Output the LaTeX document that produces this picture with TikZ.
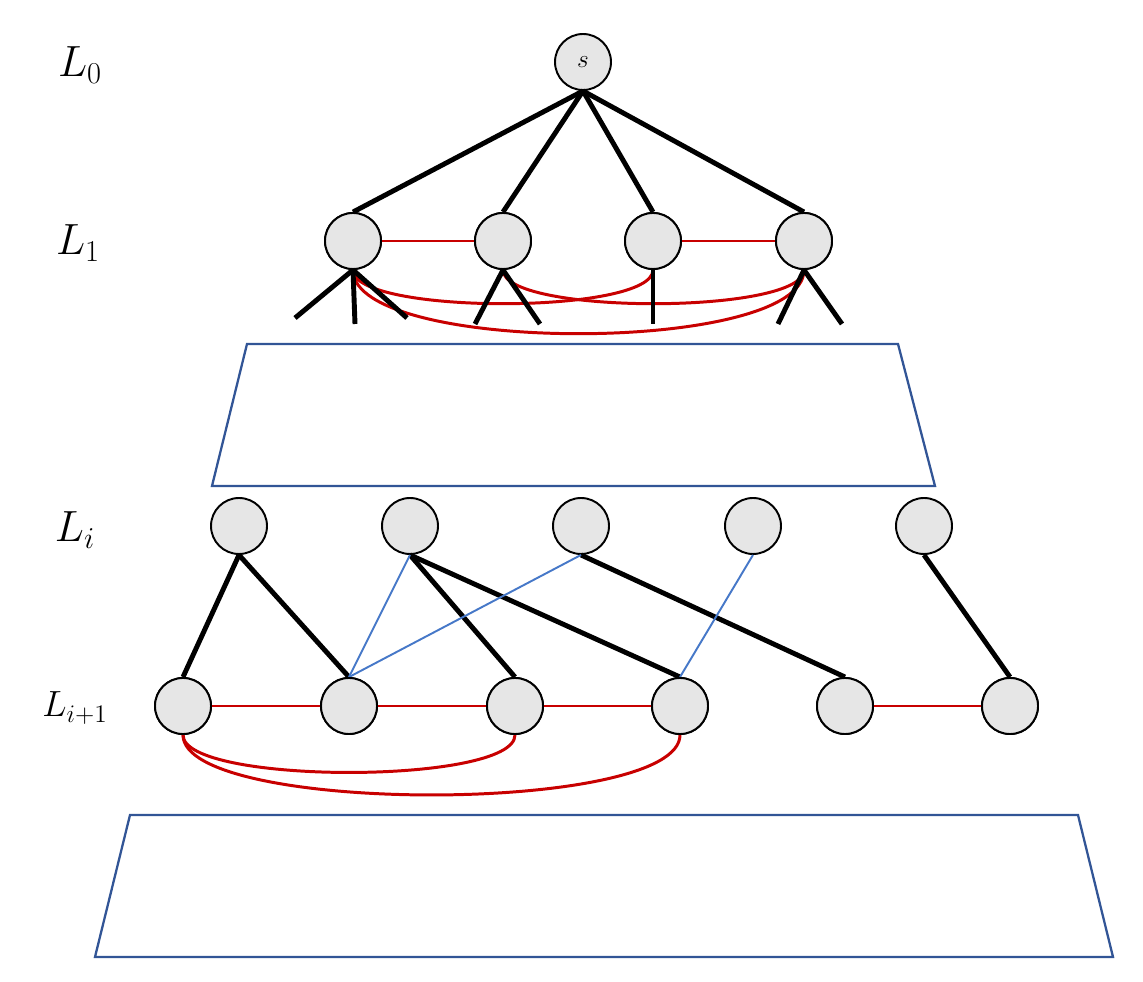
\documentclass[tikz,border=0pt]{standalone}
\definecolor{nodegray}{RGB}{230,230,230}
\definecolor{redl}{RGB}{200,0,0}
\definecolor{bluel}{RGB}{70,120,200}
\definecolor{trap}{RGB}{50,85,150}
\begin{document}
\begin{tikzpicture}[x=0.02cm,y=-0.02cm,
  vert/.style={circle,draw=black,fill=nodegray,line width=1.1pt,minimum size=1.12cm,inner sep=0pt},
  blk/.style={line width=2.8pt,black},
  redc/.style={line width=1.7pt,redl},
  bluec/.style={line width=1.1pt,bluel},
  trapz/.style={line width=1.3pt,trap},
  lab/.style={font=\fontsize{24}{28}\selectfont}]
\useasboundingbox (0,0) rectangle (1143,982);
\node[lab] (l0) at (80,65) {$L_0$};
\node[lab] (l1) at (78,243) {$L_1$};
\node[lab] (li) at (75,530) {$L_i$};
\node[font=\fontsize{20}{24}\selectfont] (lip) at (75,708) {$L_{i+1}$};
\node[vert] (s) at (583,62) {\fontsize{14}{16}\selectfont$s$};
\foreach \n/\x in {a/353,b/503,c/653,d/804} \node[vert] (\n) at (\x,241) {};
\foreach \n/\x in {p1/239,p2/410,p3/581,p4/753,p5/924} \node[vert] (\n) at (\x,526) {};
\foreach \n/\x in {q1/183,q2/349,q3/515,q4/680,q5/845,q6/1010} \node[vert] (\n) at (\x,706) {};
\foreach \n/\x/\y in {e1/295/318,e2/355/324,e3/407/318,e4/475/324,e5/540/324,e6/653/324,e7/778/324,e8/842/324}
  \coordinate (\n) at (\x,\y);
% red curves L1 (behind)
\draw[redc] (a.south) .. controls +(0,45) and +(0,45) .. (c.south);
\draw[redc] (b.south) .. controls +(0,45) and +(0,45) .. (d.south);
\draw[redc] (a.south) .. controls +(0,85) and +(0,85) .. (d.south);
\foreach \t in {a,b,c,d} \draw[blk] (s.south) -- (\t.north);
\draw[blk] (a.south) -- (e1); \draw[blk] (a.south) -- (e2); \draw[blk] (a.south) -- (e3);
\draw[blk] (b.south) -- (e4); \draw[blk] (b.south) -- (e5);
\draw[blk] (c.south) -- (e6);
\draw[blk] (d.south) -- (e7); \draw[blk] (d.south) -- (e8);
\draw[redc] (a) -- (b); \draw[redc] (c) -- (d);
\draw[trapz] (247,344) -- (898,344) -- (935,486) -- (212,486) -- cycle;
% Li edges
\draw[blk] (p1.south) -- (q1.north);
\draw[blk] (p1.south) -- (q2.north);
\draw[blk] (p2.south) -- (q3.north);
\draw[blk] (p2.south) -- (q4.north);
\draw[blk] (p3.south) -- (q5.north);
\draw[blk] (p5.south) -- (q6.north);
\draw[bluec] (p2.south) -- (q2.north);
\draw[bluec] (p3.south) -- (q2.north);
\draw[bluec] (p4.south) -- (q4.north);
\draw[redc] (q1) -- (q2) -- (q3) -- (q4);
\draw[redc] (q5) -- (q6);
\draw[redc] (q1.south) .. controls +(0,50) and +(0,50) .. (q3.south);
\draw[redc] (q1.south) .. controls +(0,80) and +(0,80) .. (q4.south);
\foreach \n in {a,b,c,d,q1,q2,q3,q4,q5,q6} \node[vert] at (\n) {};
\draw[trapz] (130,815) -- (1078,815) -- (1113,957) -- (95,957) -- cycle;
\end{tikzpicture}
\end{document}
